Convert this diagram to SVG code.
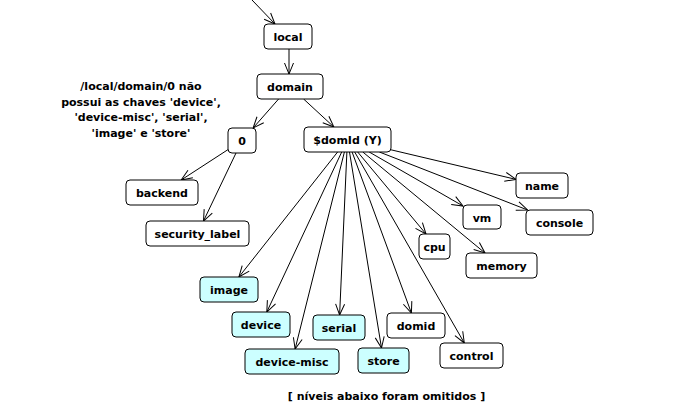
<svg xmlns="http://www.w3.org/2000/svg" width="690" height="413" viewBox="0 0 690 413">
<style>
.n rect{fill:#fff;stroke:#000;stroke-width:1}
.c rect{fill:#ccffff}
text{font-family:"DejaVu Sans","Liberation Sans",sans-serif;font-weight:bold;font-size:11px;text-anchor:middle;fill:#000}
#edges line{stroke:#000;stroke-width:1;marker-end:url(#a)}
</style>
<defs>
<marker id="a" markerUnits="userSpaceOnUse" markerWidth="14" markerHeight="14" viewBox="-12 -7 14 14" refX="0" refY="0" orient="auto">
<path d="M-11,-4.5 L0,0 L-11,4.5" fill="none" stroke="#000" stroke-width="1"/>
</marker>
</defs>
<rect width="690" height="413" fill="#fff"/>
<g id="edges">
<line x1="252" y1="0" x2="275" y2="24"/>
<line x1="289" y1="49" x2="289" y2="74"/>
<line x1="278.6" y1="99" x2="253.1" y2="128"/>
<line x1="303.6" y1="99" x2="333.9" y2="127"/>
<line x1="228" y1="149.6" x2="181.2" y2="180"/>
<line x1="236" y1="153" x2="203.5" y2="221"/>
<line x1="391" y1="149.8" x2="516" y2="179.4"/>
<line x1="379.4" y1="152" x2="527.6" y2="210"/>
<line x1="369.2" y1="152" x2="463" y2="206"/>
<line x1="357.7" y1="152" x2="426" y2="234"/>
<line x1="362.8" y1="152" x2="485" y2="253"/>
<line x1="354.7" y1="152" x2="464.3" y2="343"/>
<line x1="352.1" y1="152" x2="411.4" y2="313"/>
<line x1="349.5" y1="152" x2="381.5" y2="348"/>
<line x1="346.9" y1="152" x2="339.6" y2="315"/>
<line x1="344.4" y1="152" x2="295.1" y2="349"/>
<line x1="341.7" y1="152" x2="266.8" y2="312"/>
<line x1="337.6" y1="152" x2="238.9" y2="277"/>
</g>
<g id="local" class="n"><rect x="264" y="24" width="48" height="25" rx="4"/><text x="288" y="41">local</text></g>
<g id="domain" class="n"><rect x="257" y="74" width="66" height="25" rx="4"/><text x="290" y="91">domain</text></g>
<g id="n0" class="n"><rect x="228" y="128" width="28" height="25" rx="4"/><text x="242" y="145">0</text></g>
<g id="backend" class="n"><rect x="126" y="180" width="72" height="25" rx="4"/><text x="162" y="197">backend</text></g>
<g id="security_label" class="n"><rect x="146" y="221" width="103" height="25" rx="4"/><text x="197.5" y="238">security_label</text></g>
<g id="domId" class="n"><rect x="304" y="127" width="87" height="25" rx="4"/><text x="347.5" y="144">$domId (Y)</text></g>
<g id="name" class="n"><rect x="516" y="173" width="52" height="25" rx="4"/><text x="542" y="190">name</text></g>
<g id="vm" class="n"><rect x="463" y="205" width="38" height="24" rx="4"/><text x="482" y="221.5">vm</text></g>
<g id="console" class="n"><rect x="526" y="210" width="67" height="25" rx="4"/><text x="559.5" y="227">console</text></g>
<g id="cpu" class="n"><rect x="419" y="234" width="31" height="25" rx="4"/><text x="434.5" y="251">cpu</text></g>
<g id="memory" class="n"><rect x="466" y="253" width="71" height="25" rx="4"/><text x="501.5" y="270">memory</text></g>
<g id="image" class="n c"><rect x="200" y="277" width="58" height="25" rx="4"/><text x="229" y="294">image</text></g>
<g id="device" class="n c"><rect x="232" y="312" width="58" height="25" rx="4"/><text x="261" y="329">device</text></g>
<g id="serial" class="n c"><rect x="313" y="315" width="52" height="25" rx="4"/><text x="339" y="332">serial</text></g>
<g id="domid" class="n"><rect x="387" y="313" width="58" height="25" rx="4"/><text x="416" y="330">domid</text></g>
<g id="device-misc" class="n c"><rect x="245" y="349" width="94" height="25" rx="4"/><text x="292" y="366">device-misc</text></g>
<g id="store" class="n c"><rect x="358" y="348" width="51" height="25" rx="4"/><text x="383.5" y="365">store</text></g>
<g id="control" class="n"><rect x="440" y="343" width="63" height="25" rx="4"/><text x="471.5" y="360">control</text></g>
<g id="note">
<text x="141" y="90">/local/domain/0 não</text>
<text x="141" y="105.5">possui as chaves 'device',</text>
<text x="141" y="121">'device-misc', 'serial',</text>
<text x="141" y="136.5">'image' e 'store'</text>
</g>
<text x="386.5" y="400">[ níveis abaixo foram omitidos ]</text>
</svg>
